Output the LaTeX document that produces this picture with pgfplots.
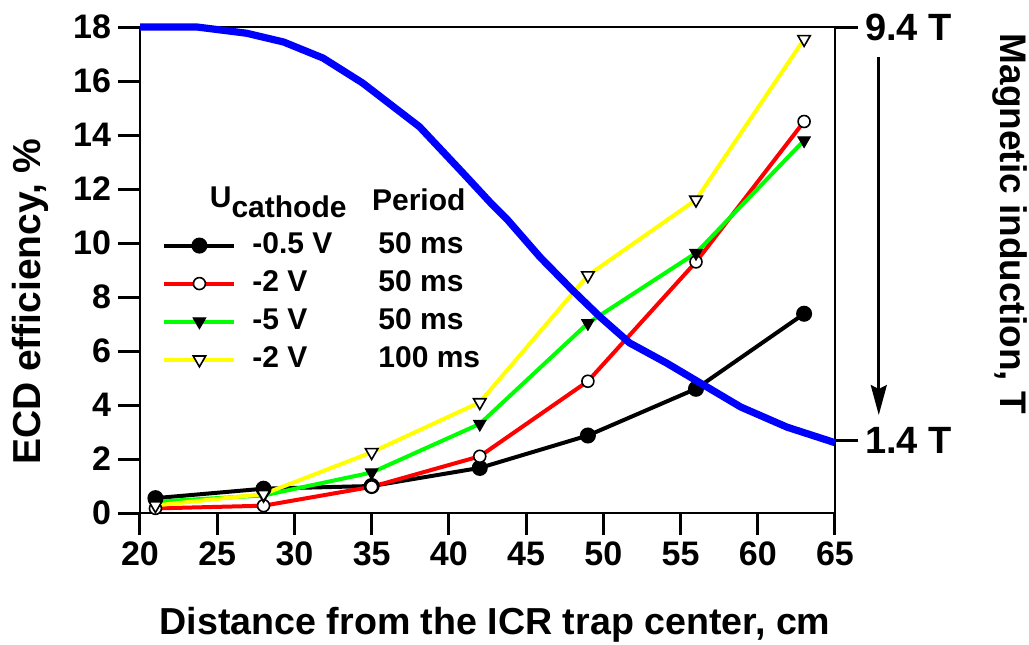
\documentclass[border=0pt]{standalone}
\usepackage{fontspec}
\setmainfont{Liberation Sans}
\usepackage{pgfplots}
\pgfplotsset{compat=1.18}
\usetikzlibrary{arrows.meta}
\definecolor{cgreen}{RGB}{0,255,0}
\definecolor{cyellow}{RGB}{255,255,0}
\definecolor{cblue}{RGB}{0,0,255}
\definecolor{cred}{RGB}{255,0,0}
\begin{document}
\begin{tikzpicture}[font=\bfseries]
\begin{axis}[
  at={(0,0)}, anchor=south west,
  scale only axis, width=347.5pt, height=243pt,
  xmin=20, xmax=65, ymin=0, ymax=18,
  xtick={20,25,...,65}, ytick={0,2,...,18},
  xtick pos=bottom, ytick pos=left,
  tick align=outside, major tick length=11pt,
  every tick/.style={black, line width=1.5pt},
  axis line style={line width=1.2pt},
  tick label style={font=\fontsize{17}{18}\bfseries},
  /pgf/number format/assume math mode=true,
  xlabel={Distance from the ICR trap center, cm},
  ylabel={ECD efficiency, \%},
  every axis x label/.style={at={(axis description cs:0.511,-0.23)}, anchor=center, font=\fontsize{18.8}{20}\bfseries},
  every axis y label/.style={at={(axis description cs:-0.158,0.435)}, anchor=center, rotate=90, font=\fontsize{19.5}{20}\bfseries},
  legend style={at={(rel axis cs:0.0317,0.584)}, anchor=north west, draw=none, fill=none, inner sep=0pt,
    row sep=3pt, font=\fontsize{15}{18}\bfseries,
    nodes={inner sep=1pt, text height=11pt, text depth=3pt, anchor=west},
    /tikz/every odd column/.append style={column sep=7pt}},
  legend cell align=left,
  legend image code/.code={\draw[mark repeat=2,mark phase=2,#1] plot coordinates {(0pt,0pt) (17.5pt,0pt) (35pt,0pt)};},
]
\addplot[black, line width=2pt, mark=*, mark size=3pt, mark options={solid, fill=black}]
  coordinates {(21,0.55) (28,0.9) (35,1.0) (42,1.67) (49,2.87) (56,4.6) (63,7.38)};
\addlegendentry{\makebox[63pt][l]{-0.5 V}50 ms}
\addplot[cred, line width=2pt, mark=*, mark size=3pt, mark options={solid, fill=white, draw=black, line width=0.8pt}]
  coordinates {(21,0.17) (28,0.27) (35,0.97) (42,2.1) (49,4.88) (56,9.3) (63,14.5)};
\addlegendentry{\makebox[63pt][l]{-2 V}50 ms}
\addplot[cgreen, line width=2pt, mark=triangle*, mark size=3.6pt, mark options={solid, rotate=180, fill=black, draw=black, line width=0.5pt}]
  coordinates {(21,0.42) (28,0.65) (35,1.5) (42,3.3) (49,7.03) (56,9.63) (63,13.8)};
\addlegendentry{\makebox[63pt][l]{-5 V}50 ms}
\addplot[cyellow, line width=2pt, mark=triangle*, mark size=3.6pt, mark options={solid, rotate=180, fill=white, draw=black, line width=0.8pt}]
  coordinates {(21,0.28) (28,0.7) (35,2.25) (42,4.1) (49,8.8) (56,11.6) (63,17.55)};
\addlegendentry{\makebox[63pt][l]{-2 V}100 ms}
\node[anchor=base west, inner sep=0pt, font=\fontsize{15}{18}\bfseries] at (axis cs:24.5,11.33) {U\raisebox{-5pt}{cathode}};
\node[anchor=base west, inner sep=0pt, font=\fontsize{15}{18}\bfseries] at (axis cs:35.0,11.22) {Period};
\end{axis}
\begin{axis}[
  at={(0,0)}, anchor=south west,
  scale only axis, width=347.5pt, height=243pt,
  xmin=20, xmax=65, ymin=0, ymax=9.4,
  axis x line=none, axis y line*=right,
  ytick={1.4,9.4}, yticklabels={1.4 T,9.4 T},
  tick align=outside, major tick length=11.5pt,
  every tick/.style={black, line width=1.5pt},
  axis line style={line width=1.2pt},
  tick label style={font=\fontsize{19}{20}\bfseries},
  ylabel={Magnetic induction, T},
  every axis y label/.style={at={(axis description cs:1.252,0.595)}, anchor=center, rotate=-90, font=\fontsize{18.5}{20}\bfseries},
  clip=false,
]
\addplot[cblue, line width=3.6pt, line join=round]
  coordinates {(20,9.4) (23.7,9.4) (26.9,9.28) (29.3,9.11) (31.85,8.80) (34.4,8.32) (38.1,7.47) (40.9,6.58) (42.7,6.00) (43.8,5.67) (45.9,4.95) (48.0,4.31) (49.8,3.79) (51.7,3.29) (54.1,2.90) (56.3,2.51) (58.9,2.05) (61.9,1.66) (65,1.36)};
\draw[line width=1.3pt, -{Stealth[length=15pt,width=8pt,inset=2pt]}] (rel axis cs:1.063,0.938) -- (rel axis cs:1.063,0.2016);
\end{axis}
\pgfresetboundingbox
\useasboundingbox (-70pt,-65.5pt) rectangle (444.5pt,256.5pt);
\end{tikzpicture}
\end{document}
